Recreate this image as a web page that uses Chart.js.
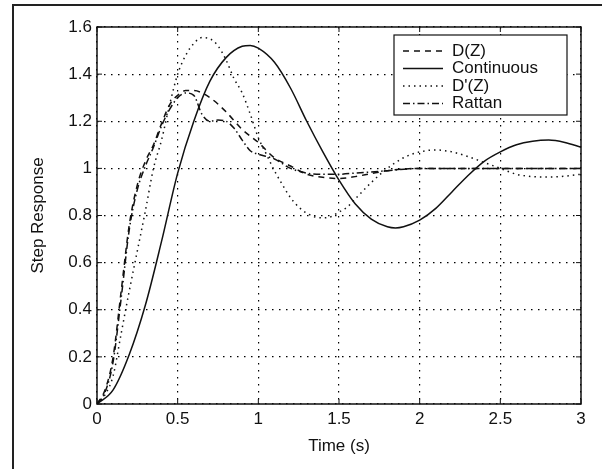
<!DOCTYPE html>
<html>
<head>
<meta charset="utf-8">
<script src="https://cdn.jsdelivr.net/npm/chart.js@4/dist/chart.umd.min.js"></script>
<style>
  html, body { margin: 0; padding: 0; background: #fff; overflow: hidden; }
  #wrap { position: relative; width: 602px; height: 469px; }
  #page-edge {
    position: absolute; left: 12px; top: 4px; width: 700px; height: 600px;
    border-left: 2px solid #222; border-top: 2px solid #222;
  }
  canvas { position: absolute; left: 0; top: 0; }
</style>
</head>
<body>
<div id="wrap">
  <div id="page-edge"></div>
  <canvas id="chart" width="602" height="469"></canvas>
</div>
<script>
  // Datos (tiempo en s, respuesta al escalon).
  const xTicks = [0, 0.5, 1, 1.5, 2, 2.5, 3];
  const yTicks = [0, 0.2, 0.4, 0.6, 0.8, 1, 1.2, 1.4, 1.6];

  const tDZ = [0, 0.05, 0.1, 0.15, 0.2, 0.25, 0.3, 0.35, 0.4, 0.45, 0.5, 0.55, 0.6, 0.7, 0.8, 0.9, 1.0, 1.1, 1.2, 1.3, 1.4, 1.5, 1.6, 1.7, 1.8, 1.9, 2.0, 2.5, 3.0];
  const dZ = [0, 0.06, 0.2, 0.48, 0.76, 0.93, 1.03, 1.1, 1.19, 1.27, 1.31, 1.33, 1.33, 1.30, 1.24, 1.165, 1.11, 1.045, 1.01, 0.975, 0.962, 0.957, 0.965, 0.978, 0.99, 0.997, 1.0, 1.0, 1.0];

  const tCont = [0, 0.1, 0.2, 0.3, 0.4, 0.5, 0.6, 0.7, 0.8, 0.9, 0.95, 1.0, 1.1, 1.2, 1.3, 1.4, 1.5, 1.6, 1.7, 1.8, 1.85, 1.9, 2.0, 2.1, 2.2, 2.3, 2.4, 2.5, 2.6, 2.7, 2.8, 2.9, 3.0];
  const continuous = [0, 0.06, 0.21, 0.42, 0.69, 0.98, 1.2, 1.37, 1.47, 1.518, 1.522, 1.51, 1.45, 1.34, 1.2, 1.07, 0.95, 0.85, 0.785, 0.752, 0.747, 0.752, 0.78, 0.83, 0.9, 0.97, 1.03, 1.07, 1.1, 1.115, 1.12, 1.11, 1.09];

  const tDpZ = [0, 0.05, 0.1, 0.15, 0.2, 0.25, 0.3, 0.35, 0.4, 0.45, 0.5, 0.55, 0.6, 0.65, 0.7, 0.75, 0.8, 0.85, 0.9, 0.95, 1.0, 1.05, 1.1, 1.15, 1.2, 1.25, 1.3, 1.35, 1.4, 1.45, 1.5, 1.55, 1.6, 1.7, 1.8, 1.9, 2.0, 2.1, 2.2, 2.3, 2.4, 2.5, 2.6, 2.7, 2.8, 2.9, 3.0];
  const dPrimeZ = [0, 0.04, 0.12, 0.3, 0.48, 0.65, 0.82, 1.0, 1.12, 1.27, 1.4, 1.48, 1.53, 1.555, 1.55, 1.52, 1.46, 1.38, 1.32, 1.23, 1.13, 1.06, 0.99, 0.93, 0.875, 0.836, 0.81, 0.794, 0.79, 0.795, 0.815, 0.835, 0.87, 0.94, 1.0, 1.045, 1.07, 1.078, 1.07, 1.05, 1.025, 1.0, 0.975, 0.965, 0.963, 0.967, 0.975];

  const tRattan = [0, 0.05, 0.1, 0.15, 0.2, 0.25, 0.3, 0.35, 0.4, 0.45, 0.5, 0.55, 0.6, 0.65, 0.7, 0.75, 0.8, 0.85, 0.9, 0.95, 1.0, 1.1, 1.2, 1.3, 1.4, 1.5, 1.6, 1.7, 1.8, 2.0, 2.5, 3.0];
  const rattan = [0, 0.05, 0.18, 0.45, 0.74, 0.91, 1.01, 1.09, 1.18, 1.25, 1.3, 1.32, 1.31, 1.23, 1.2, 1.205, 1.2, 1.17, 1.12, 1.075, 1.06, 1.04, 1.0, 0.98, 0.975, 0.975, 0.98, 0.985, 0.99, 1.0, 1.0, 1.0];

  const FONT = "'Liberation Sans', Arial, Helvetica, sans-serif";
  const INK = '#111';

  function toPoints(t, v) {
    return t.map(function (x, i) { return { x: x, y: v[i] }; });
  }

  function series(label, t, v, dash) {
    return {
      label: label,
      data: toPoints(t, v),
      borderColor: INK,
      borderWidth: 1.5,
      borderDash: dash,
      pointRadius: 0,
      fill: false,
      cubicInterpolationMode: 'monotone'
    };
  }

  // Marco de los ejes con marcas hacia dentro, estilo MATLAB.
  const axesFrame = {
    id: 'axesFrame',
    afterDatasetsDraw: function (chart) {
      const ctx = chart.ctx;
      const a = chart.chartArea;
      const xs = chart.scales.x;
      const ys = chart.scales.y;
      ctx.save();
      ctx.strokeStyle = INK;
      ctx.lineWidth = 1.5;
      ctx.setLineDash([]);
      ctx.strokeRect(a.left, a.top, a.right - a.left, a.bottom - a.top);
      ctx.lineWidth = 1;
      ctx.beginPath();
      xTicks.forEach(function (v) {
        const px = xs.getPixelForValue(v);
        ctx.moveTo(px, a.bottom); ctx.lineTo(px, a.bottom - 5);
        ctx.moveTo(px, a.top); ctx.lineTo(px, a.top + 5);
      });
      yTicks.forEach(function (v) {
        const py = ys.getPixelForValue(v);
        ctx.moveTo(a.left, py); ctx.lineTo(a.left + 5, py);
        ctx.moveTo(a.right, py); ctx.lineTo(a.right - 5, py);
      });
      ctx.stroke();
      ctx.restore();
    }
  };

  // Leyenda dibujada dentro del area del grafico.
  const boxLegend = {
    id: 'boxLegend',
    afterDraw: function (chart) {
      const ctx = chart.ctx;
      const left = 394, top = 35, width = 173, height = 80;
      const rowY = [51, 68.5, 86, 103.5];
      ctx.save();
      ctx.fillStyle = '#fff';
      ctx.fillRect(left, top, width, height);
      ctx.strokeStyle = INK;
      ctx.lineWidth = 1.2;
      ctx.setLineDash([]);
      ctx.strokeRect(left, top, width, height);
      ctx.font = '17px ' + FONT;
      ctx.textBaseline = 'middle';
      ctx.fillStyle = INK;
      chart.data.datasets.forEach(function (ds, i) {
        const y = rowY[i];
        ctx.beginPath();
        ctx.lineWidth = ds.borderWidth;
        ctx.setLineDash(ds.borderDash || []);
        ctx.moveTo(403, y);
        ctx.lineTo(443, y);
        ctx.stroke();
        ctx.setLineDash([]);
        ctx.fillText(ds.label, 452, y);
      });
      ctx.restore();
    }
  };

  function tickLabel(value) {
    return String(Number(value.toFixed(1)));
  }

  new Chart(document.getElementById('chart').getContext('2d'), {
    type: 'line',
    data: {
      datasets: [
        series('D(Z)', tDZ, dZ, [6, 5]),
        series('Continuous', tCont, continuous, []),
        series("D'(Z)", tDpZ, dPrimeZ, [1.5, 4]),
        series('Rattan', tRattan, rattan, [7, 3, 1.5, 3])
      ]
    },
    options: {
      responsive: false,
      animation: false,
      devicePixelRatio: 1,
      layout: { padding: { left: 28, top: 27, right: 21, bottom: 12 } },
      plugins: {
        legend: { display: false },
        tooltip: { enabled: false }
      },
      scales: {
        x: {
          type: 'linear',
          min: 0,
          max: 3,
          afterBuildTicks: function (scale) {
            scale.ticks = xTicks.map(function (v) { return { value: v }; });
          },
          afterFit: function (scale) { scale.height = 53; },
          grid: { color: '#000', lineWidth: 1.2, drawTicks: false },
          border: { display: false, dash: [1.5, 5.5] },
          ticks: {
            padding: 5,
            color: INK,
            font: { family: FONT, size: 17 },
            maxRotation: 0,
            callback: tickLabel
          },
          title: {
            display: true,
            text: 'Time (s)',
            color: INK,
            font: { family: FONT, size: 17 },
            padding: { top: 0, bottom: 0 }
          }
        },
        y: {
          type: 'linear',
          min: 0,
          max: 1.6,
          afterBuildTicks: function (scale) {
            scale.ticks = yTicks.map(function (v) { return { value: v }; });
          },
          afterFit: function (scale) { scale.width = 69; },
          grid: { color: '#000', lineWidth: 1.2, drawTicks: false },
          border: { display: false, dash: [1.5, 5.5] },
          ticks: {
            padding: 5,
            color: INK,
            font: { family: FONT, size: 17 },
            callback: tickLabel
          },
          title: {
            display: true,
            text: 'Step Response',
            color: INK,
            font: { family: FONT, size: 17 },
            padding: { top: 0, bottom: 0 }
          }
        }
      }
    },
    plugins: [axesFrame, boxLegend]
  });
</script>
</body>
</html>
